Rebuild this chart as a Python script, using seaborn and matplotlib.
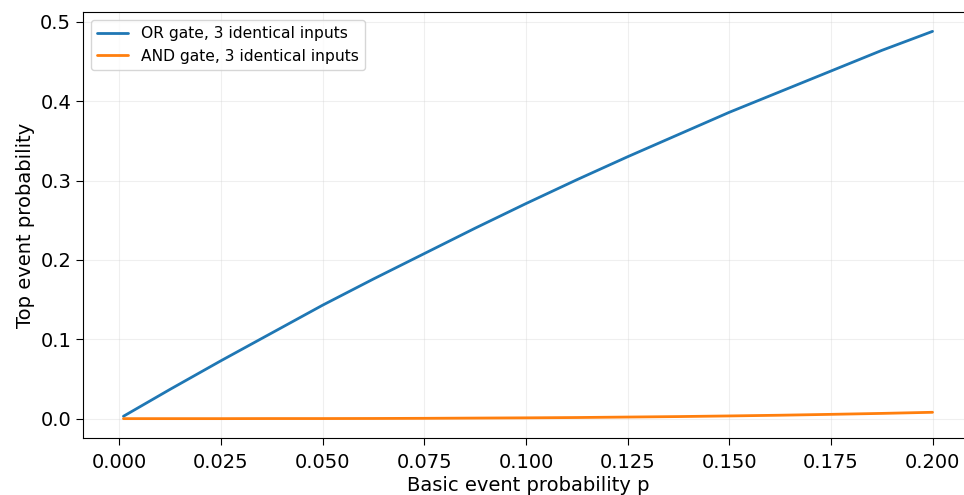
import matplotlib
matplotlib.use("Agg")
import matplotlib.pyplot as plt
import numpy as np
import pandas as pd
import seaborn as sns

# Values
p_values = [0.001, 0.0125, 0.025, 0.0375, 0.05, 0.0625, 0.075, 0.0875, 0.1,
            0.1125, 0.125, 0.1375, 0.15, 0.1625, 0.175, 0.1875, 0.2]
or_gate = [0.003, 0.037, 0.073, 0.108, 0.143, 0.176, 0.208, 0.240, 0.271,
           0.301, 0.330, 0.358, 0.386, 0.412, 0.438, 0.464, 0.488]
and_gate = [0.0, 0.0, 0.0, 0.0001, 0.0001, 0.0002, 0.0004, 0.0007, 0.001,
            0.0014, 0.002, 0.0026, 0.0034, 0.0043, 0.0054, 0.0066, 0.008]
series_names = ["OR gate, 3 identical inputs", "AND gate, 3 identical inputs"]

df = pd.concat([
    pd.DataFrame({"p": p_values, "prob": or_gate, "gate": series_names[0]}),
    pd.DataFrame({"p": p_values, "prob": and_gate, "gate": series_names[1]}),
], ignore_index=True)

sns.set_style("ticks", {
    "axes.edgecolor": "black",
    "text.color": "black",
    "axes.labelcolor": "black",
    "xtick.color": "black",
    "ytick.color": "black",
})
plt.rcParams["font.family"] = ["DejaVu Sans"]

fig = plt.figure(figsize=(9.64, 4.95), dpi=100)
# Axes run past the right edge, as in the cropped reference
ax = fig.add_axes([83 / 964, 1 - 438 / 495, 890 / 964, 426 / 495])

sns.lineplot(
    data=df, x="p", y="prob", hue="gate",
    palette=["#1f77b4", "#ff7f0e"], linewidth=2, ax=ax
)

ax.grid(True, alpha=0.3)
ax.set_xticks(np.arange(0, 0.2001, 0.025))
ax.set_yticks(np.arange(0, 0.51, 0.1))
ax.tick_params(labelsize=14, length=5)
ax.tick_params(axis="x", pad=6)
ax.set_xlabel("Basic event probability p", fontsize=14, labelpad=3)
ax.set_ylabel("Top event probability", fontsize=14)
for side in ["top", "right"]:
    ax.spines[side].set_visible(True)

ax.legend(title=None, loc="upper left", fontsize=11.2, frameon=True)

fig.savefig("out.png", dpi=100)
